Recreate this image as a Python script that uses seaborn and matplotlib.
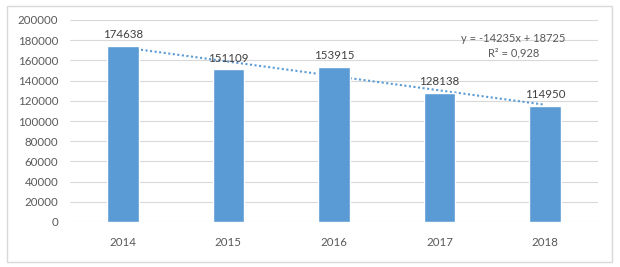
import matplotlib
matplotlib.use("Agg")
import matplotlib.pyplot as plt
import seaborn as sns
import numpy as np
import pandas as pd
from matplotlib.patches import Rectangle

years = ["2014", "2015", "2016", "2017", "2018"]
values = [174638, 151109, 153915, 128138, 114950]
yticks = [0, 20000, 40000, 60000, 80000, 100000, 120000, 140000, 160000, 180000, 200000]
eq_text = "y = -14235x + 18725"
r2_text = "R² = 0,928"

sns.set_theme(style="white")
plt.rcParams['font.family'] = ['Lato', 'DejaVu Sans']

df = pd.DataFrame({"year": years, "value": values})

fig = plt.figure(figsize=(6.2, 2.67), dpi=100)
fig.patch.set_facecolor("white")
fig.patches.append(Rectangle((7/620, 1-262/267), (612-7)/620, (262-6)/267,
                             transform=fig.transFigure, fill=False,
                             edgecolor="#d9d9d9", linewidth=1.0))

ax = fig.add_axes([70/620, 1-222/267, (598-70)/620, (222-20)/267])
sns.barplot(data=df, x="year", y="value", color="#5b9bd5", width=0.30,
            saturation=1, ax=ax, zorder=3)

# linear trendline (behind bars)
xs = np.arange(len(values))
coef = np.polyfit(xs, values, 1)
ax.plot(xs, np.polyval(coef, xs), linestyle=(0, (1, 1.2)), color="#5b9bd5",
        linewidth=1.5, zorder=2)

for i, v in enumerate(values):
    ax.text(i, v + 5500, str(v), ha="center", va="bottom", fontsize=8.3,
            color="#404040", zorder=4)

ax.set_ylim(0, 200000)
ax.set_xlim(-0.5, 4.5)
ax.set_yticks(yticks)
ax.set_yticklabels([str(t) for t in yticks])
ax.yaxis.grid(True, color="#d9d9d9", linewidth=0.8, zorder=0)
ax.set_axisbelow(True)
for s in ax.spines.values():
    s.set_visible(False)
ax.tick_params(axis="y", length=0, pad=8.5, labelsize=8.3, labelcolor="#595959")
ax.tick_params(axis="x", length=0, pad=11, labelsize=8.3, labelcolor="#595959")
ax.set_xlabel("")
ax.set_ylabel("")

fig.text(513/620, 1-39/267, eq_text, ha="center", va="center", fontsize=8, color="#595959")
fig.text(514/620, 1-53/267, r2_text, ha="center", va="center", fontsize=8, color="#595959")

fig.savefig("out.png", dpi=100, facecolor="white")
